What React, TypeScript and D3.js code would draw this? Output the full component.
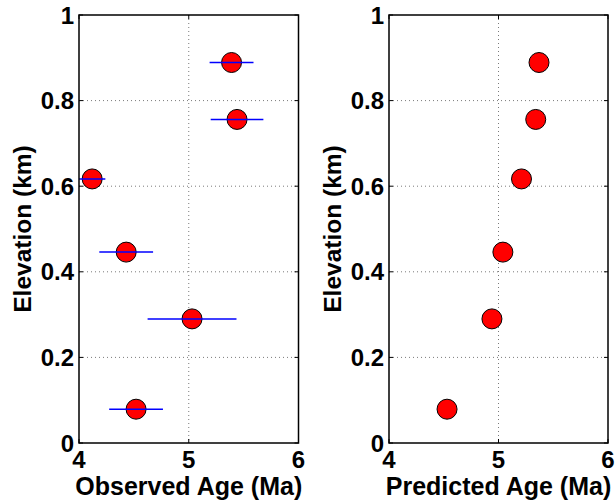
import React from 'react';
import * as d3 from 'd3';

// elevation of each sample (km), top to bottom
const ELEVATION = [0.889, 0.756, 0.617, 0.446, 0.29, 0.079];
// observed age (Ma) and its half-width error
const OBSERVED_AGE = [5.39, 5.44, 4.12, 4.43, 5.03, 4.52];
const OBSERVED_ERR = [0.2, 0.24, 0.12, 0.245, 0.405, 0.245];
// predicted age (Ma)
const PREDICTED_AGE = [5.37, 5.34, 5.21, 5.04, 4.94, 4.53];

const X_TICKS = [4, 5, 6];
const Y_TICKS = [0, 0.2, 0.4, 0.6, 0.8, 1];

const W = 616;
const H = 504;
const FONT = '"Liberation Sans", Arial, Helvetica, sans-serif';

type PanelProps = {
  left: number;
  width: number;
  xLabel: string;
  ages: number[];
  errors?: number[];
  clipId: string;
};

function Panel({ left, width, xLabel, ages, errors, clipId }: PanelProps) {
  const top = 15;
  const bottom = 443;
  const x = d3.scaleLinear().domain([4, 6]).range([left, left + width]);
  const y = d3.scaleLinear().domain([0, 1]).range([bottom, top]);
  const tickLen = 4;
  const gridY = Y_TICKS.filter(t => t > 0 && t < 1);
  const gridX = X_TICKS.filter(t => t > 4 && t < 6);

  return (
    <g>
      <defs>
        <clipPath id={clipId}>
          <rect x={left} y={top} width={width} height={bottom - top} />
        </clipPath>
      </defs>

      {/* grid */}
      {gridY.map(t => (
        <line key={'gy' + t} x1={left} x2={left + width} y1={y(t)} y2={y(t)}
          stroke="#7a7a7a" strokeWidth={1} strokeDasharray="1,3" />
      ))}
      {gridX.map(t => (
        <line key={'gx' + t} x1={x(t)} x2={x(t)} y1={top} y2={bottom}
          stroke="#7a7a7a" strokeWidth={1} strokeDasharray="1,3" />
      ))}

      {/* ticks, inside on all four sides */}
      {Y_TICKS.map(t => (
        <g key={'ty' + t}>
          <line x1={left} x2={left + tickLen} y1={y(t)} y2={y(t)} stroke="#000" />
          <line x1={left + width} x2={left + width - tickLen} y1={y(t)} y2={y(t)} stroke="#000" />
          <text x={left - 5} y={y(t)} dy="0.36em" textAnchor="end"
            fontFamily={FONT} fontWeight="bold" fontSize={24}>{String(t)}</text>
        </g>
      ))}
      {X_TICKS.map(t => (
        <g key={'tx' + t}>
          <line x1={x(t)} x2={x(t)} y1={bottom} y2={bottom - tickLen} stroke="#000" />
          <line x1={x(t)} x2={x(t)} y1={top} y2={top + tickLen} stroke="#000" />
          <text x={x(t)} y={bottom + 25} textAnchor="middle"
            fontFamily={FONT} fontWeight="bold" fontSize={24}>{String(t)}</text>
        </g>
      ))}

      {/* markers */}
      <g clipPath={`url(#${clipId})`}>
        {ages.map((a, i) => (
          <circle key={'c' + i} cx={x(a)} cy={y(ELEVATION[i])} r={10}
            fill="#ff0000" stroke="#000" strokeWidth={1} />
        ))}
        {errors && ages.map((a, i) => (
          <line key={'e' + i} x1={x(a - errors[i])} x2={x(a + errors[i])}
            y1={y(ELEVATION[i])} y2={y(ELEVATION[i])} stroke="#0000ff" strokeWidth={1.5} />
        ))}
      </g>

      {/* box */}
      <rect x={left} y={top} width={width} height={bottom - top}
        fill="none" stroke="#000" strokeWidth={1.5} />

      {/* labels */}
      <text x={left + width / 2} y={495} textAnchor="middle"
        fontFamily={FONT} fontWeight="bold" fontSize={25}>{xLabel}</text>
      <text transform={`translate(${left - 48},${(top + bottom) / 2}) rotate(-90)`}
        textAnchor="middle" fontFamily={FONT} fontWeight="bold" fontSize={24.5}>
        Elevation (km)
      </text>
    </g>
  );
}

export default function App() {
  return (
    <svg width={W} height={H} viewBox={`0 0 ${W} ${H}`}
      style={{ position: 'absolute', left: 0, top: 0, background: '#fff' }}>
      <rect width={W} height={H} fill="#fff" />
      <Panel left={79} width={219.5} xLabel="Observed Age (Ma)" ages={OBSERVED_AGE}
        errors={OBSERVED_ERR} clipId="clipObs" />
      <Panel left={389} width={219} xLabel="Predicted Age (Ma)" ages={PREDICTED_AGE}
        clipId="clipPred" />
    </svg>
  );
}
